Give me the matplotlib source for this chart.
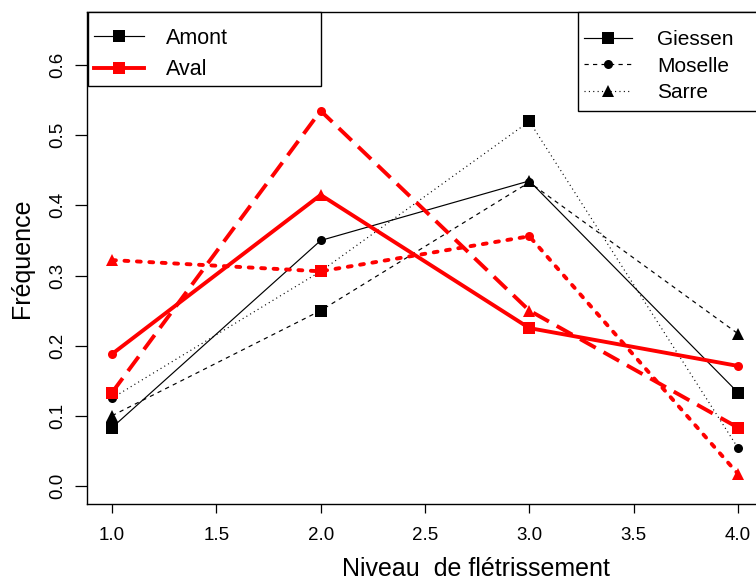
import matplotlib
matplotlib.use("Agg")
import matplotlib.pyplot as plt
from matplotlib.lines import Line2D
from matplotlib.patches import Rectangle

# Fréquence des niveaux de flétrissement, amont / aval, par rivière
levels = [1, 2, 3, 4]
amont_giessen = [0.083, 0.350, 0.435, 0.133]
amont_moselle = [0.100, 0.250, 0.433, 0.217]
amont_sarre = [0.125, 0.306, 0.520, 0.054]
aval_giessen = [0.188, 0.415, 0.225, 0.171]
aval_moselle = [0.133, 0.535, 0.250, 0.083]
aval_sarre = [0.322, 0.306, 0.356, 0.017]

x_ticks = [1.0, 1.5, 2.0, 2.5, 3.0, 3.5, 4.0]
y_ticks = [0.0, 0.1, 0.2, 0.3, 0.4, 0.5, 0.6]

plt.rcParams["font.family"] = ["Liberation Sans", "DejaVu Sans"]

# the point symbols cycle square / circle / triangle along each line
SQ, CI, TR = "s", "o", "^"
MSIZE = {"s": 8.0, "o": 6.5, "^": 8.5}

BLACK_LW = 0.85
RED_LW = 2.8
dash_styles = {
    "dashed_black": (0, (3.6, 3.6)),
    "dotted_black": (0, (0.9, 2.8)),
    "dashed_red": (0, (4.6, 2.3)),
    "dotted_red": (0, (1.0, 2.2)),
}

series = [
    (amont_giessen, "black", BLACK_LW, "solid", [SQ, CI, TR, SQ]),
    (amont_moselle, "black", BLACK_LW, "dashed_black", [TR, SQ, CI, TR]),
    (amont_sarre, "black", BLACK_LW, "dotted_black", [CI, TR, SQ, CI]),
    (aval_giessen, "red", RED_LW, "solid", [CI, TR, SQ, CI]),
    (aval_moselle, "red", RED_LW, "dashed_red", [SQ, CI, TR, SQ]),
    (aval_sarre, "red", RED_LW, "dotted_red", [TR, SQ, CI, TR]),
]

fig = plt.figure(figsize=(7.56, 5.81), dpi=100)
ax = fig.add_axes([87 / 756, 1 - 504 / 581, 676 / 756, 492 / 581])

for values, color, lw, style, markers in series:
    ls = style if style == "solid" else dash_styles[style]
    line, = ax.plot(levels, values, color=color, linewidth=lw, linestyle=ls,
                    solid_capstyle="round")
    if style == "dotted_red":
        line.set_dash_capstyle("round")
    for xv, yv, m in zip(levels, values, markers):
        ax.plot([xv], [yv], linestyle="none", marker=m, markersize=MSIZE[m],
                color=color, markeredgewidth=0)

ax.set_xlim(0.88, 4.12)
ax.set_ylim(-0.026, 0.676)
ax.set_xticks(x_ticks)
ax.set_xticklabels([f"{v:.1f}" for v in x_ticks])
ax.set_yticks(y_ticks)
ax.set_yticklabels([f"{v:.1f}" for v in y_ticks], rotation=90, va="center")
ax.tick_params(axis="x", direction="out", length=6.5, width=0.9,
               labelsize=13.5, pad=10)
ax.tick_params(axis="y", direction="out", length=8.6, width=0.9,
               labelsize=13.5, pad=6.5)
for sp in ax.spines.values():
    sp.set_linewidth(1.0)

ax.set_xlabel("Niveau  de flétrissement", fontsize=18)
ax.xaxis.label.set_va("center")
ax.xaxis.set_label_coords((476 - 87) / 676, (504 - 568.5) / 492)
ax.set_ylabel("Fréquence", fontsize=18)
ax.yaxis.label.set_va("center")
ax.yaxis.set_label_coords((22 - 87) / 676, 0.5)

# legend frames, as in the original
ax.add_patch(Rectangle((0.0015, 0.8496), 0.345, 0.1504, transform=ax.transAxes,
                       facecolor="white", edgecolor="black", linewidth=1.0,
                       zorder=5, clip_on=False))
ax.add_patch(Rectangle((0.7263, 0.7988), 0.2737, 0.2012, transform=ax.transAxes,
                       facecolor="white", edgecolor="black", linewidth=1.0,
                       zorder=5, clip_on=False))

site_handles = [
    Line2D([], [], color="black", linewidth=BLACK_LW, marker="s", markersize=8,
           markeredgewidth=0),
    Line2D([], [], color="red", linewidth=RED_LW, marker="s", markersize=8,
           markeredgewidth=0),
]
leg1 = ax.legend(site_handles, ["Amont", "Aval"], loc="upper left",
                 bbox_to_anchor=(0.0015, 0.981), frameon=False, fontsize=15.5,
                 handlelength=2.3, handletextpad=1.0, labelspacing=0.49,
                 borderpad=0.3, borderaxespad=0)
leg1.set_zorder(6)
ax.add_artist(leg1)

river_handles = [
    Line2D([], [], color="black", linewidth=BLACK_LW, linestyle="solid",
           marker="s", markersize=8, markeredgewidth=0),
    Line2D([], [], color="black", linewidth=BLACK_LW,
           linestyle=dash_styles["dashed_black"], marker="o", markersize=6.5,
           markeredgewidth=0),
    Line2D([], [], color="black", linewidth=BLACK_LW,
           linestyle=dash_styles["dotted_black"], marker="^", markersize=8.5,
           markeredgewidth=0),
]
leg2 = ax.legend(river_handles, ["Giessen", "Moselle", "Sarre"], loc="upper left",
                 bbox_to_anchor=(0.7263, 0.976), frameon=False, fontsize=15,
                 handlelength=2.3, handletextpad=1.2, labelspacing=0.36,
                 borderpad=0.3, borderaxespad=0)
leg2.set_zorder(6)

fig.savefig("out.png", dpi=100)
